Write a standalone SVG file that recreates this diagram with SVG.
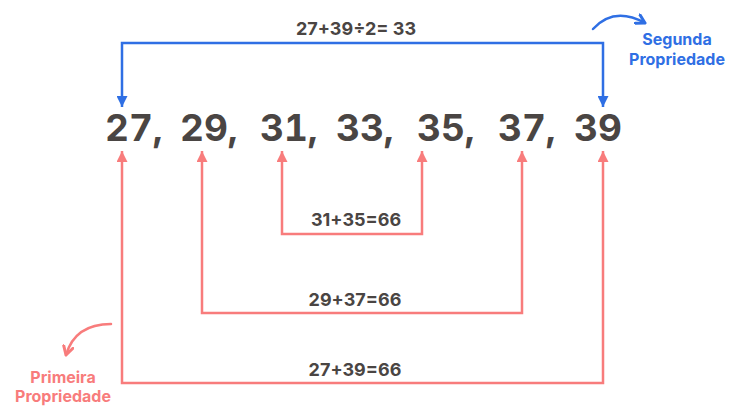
<svg xmlns="http://www.w3.org/2000/svg" width="731" height="407" viewBox="0 0 731 407">
<style>
.num{font-family:Inter,"Liberation Sans",sans-serif;font-weight:700;font-size:37px;fill:#4a4543;font-variant-numeric:tabular-nums}
.lbl{font-family:Inter,"Liberation Sans",sans-serif;font-weight:700;font-size:18px;fill:#4a4543}
.cap{font-family:Inter,"Liberation Sans",sans-serif;font-weight:700;font-size:16px}
.blue{stroke:#2f6fe4;fill:none;stroke-width:2.5}
.red{stroke:#f87c7c;fill:none;stroke-width:2.5}
</style>
<defs>
<marker id="ab" viewBox="0 0 10 10" refX="10" refY="5" markerWidth="11" markerHeight="11" markerUnits="userSpaceOnUse" orient="auto-start-reverse"><path d="M0 0L10 5L0 10z" fill="#2f6fe4"/></marker>
<marker id="ar" viewBox="0 0 10 10" refX="10" refY="5" markerWidth="11" markerHeight="11" markerUnits="userSpaceOnUse" orient="auto-start-reverse"><path d="M0 0L10 5L0 10z" fill="#f87c7c"/></marker>
<marker id="cb" viewBox="0 0 10 10" refX="8" refY="5" markerWidth="12" markerHeight="12" markerUnits="userSpaceOnUse" orient="auto"><path d="M1 1L8 5L1 9" fill="none" stroke="#2f6fe4" stroke-width="2.5" stroke-linecap="round" stroke-linejoin="round"/></marker>
<marker id="cr" viewBox="0 0 10 10" refX="8" refY="5" markerWidth="12" markerHeight="12" markerUnits="userSpaceOnUse" orient="auto"><path d="M1 1L8 5L1 9" fill="none" stroke="#f87c7c" stroke-width="2.5" stroke-linecap="round" stroke-linejoin="round"/></marker>
</defs>
<rect width="731" height="407" fill="#ffffff"/>
<g id="connectors">
<path class="blue" d="M122 107V43H603V107" marker-start="url(#ab)" marker-end="url(#ab)"/>
<path class="red" d="M282 151V234H422V151" marker-start="url(#ar)" marker-end="url(#ar)"/>
<path class="red" d="M202 151V313H522V151" marker-start="url(#ar)" marker-end="url(#ar)"/>
<path class="red" d="M122 151V383H603V151" marker-start="url(#ar)" marker-end="url(#ar)"/>
<path class="blue" d="M593 29Q614 6 645 23" stroke-linecap="round" marker-end="url(#cb)"/>
<path class="red" d="M111 324Q75 324 66 355" stroke-linecap="round" marker-end="url(#cr)"/>
</g>
<g id="n27"><text class="num" x="105" y="141">27,</text></g>
<g id="n29"><text class="num" x="180" y="141">29,</text></g>
<g id="n31"><text class="num" x="260" y="141">31,</text></g>
<g id="n33"><text class="num" x="336" y="141">33,</text></g>
<g id="n35"><text class="num" x="417" y="141">35,</text></g>
<g id="n37"><text class="num" x="498" y="141">37,</text></g>
<g id="n39"><text class="num" x="574" y="141">39</text></g>
<g id="labels">
<text class="lbl" x="356" y="35" text-anchor="middle">27+39÷2= 33</text>
<text class="lbl" x="356" y="226" text-anchor="middle">31+35=66</text>
<text class="lbl" x="355" y="306" text-anchor="middle">29+37=66</text>
<text class="lbl" x="355" y="376" text-anchor="middle">27+39=66</text>
</g>
<g id="segunda">
<text class="cap" fill="#2f6fe4" x="677" y="45" text-anchor="middle">Segunda</text>
<text class="cap" fill="#2f6fe4" x="677" y="65" text-anchor="middle">Propriedade</text>
</g>
<g id="primeira">
<text class="cap" fill="#f87c7c" x="63" y="383" text-anchor="middle">Primeira</text>
<text class="cap" fill="#f87c7c" x="63" y="402" text-anchor="middle">Propriedade</text>
</g>
</svg>
